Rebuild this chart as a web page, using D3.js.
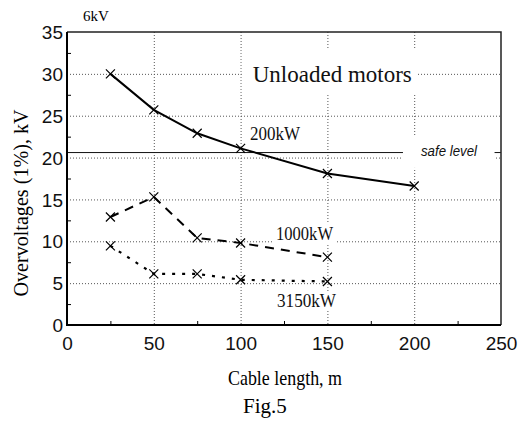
<!DOCTYPE html>
<html>
<head>
<meta charset="utf-8">
<script src="https://cdn.jsdelivr.net/npm/d3@7"></script>
<style>
  body { margin: 0; background: #fff; }
  svg { display: block; }
</style>
</head>
<body>
<div id="chart"></div>
<script>
// cable length (m) for each motor rating
const len200 = [25, 50, 75, 100, 150, 200];
const kv200 = [30.0, 25.7, 22.9, 21.1, 18.1, 16.6];
const len1000 = [25, 50, 75, 100, 150];
const kv1000 = [12.9, 15.3, 10.4, 9.8, 8.1];
const len3150 = [25, 50, 75, 100, 150];
const kv3150 = [9.45, 6.1, 6.1, 5.4, 5.2];
const safeLevel = 20.6;

const xTicks = [0, 50, 100, 150, 200, 250];
const yTicks = [0, 5, 10, 15, 20, 25, 30, 35];
const xMinor = [25, 75, 125, 175, 225];
const yMinor = [2.5, 7.5, 12.5, 17.5, 22.5, 27.5, 32.5];

const W = 525, H = 421;
const serif = '"Liberation Serif", "Times New Roman", serif';
const sans = '"Liberation Sans", Arial, sans-serif';

const svg = d3.select('#chart').append('svg')
  .attr('width', W)
  .attr('height', H);

const x = d3.scaleLinear().domain([0, 250]).range([67, 501]);
const y = d3.scaleLinear().domain([0, 35]).range([325, 32]);

// dotted grid
const grid = svg.append('g')
  .attr('stroke', '#555')
  .attr('stroke-width', 1)
  .attr('stroke-dasharray', '1,2');
grid.selectAll('.gx').data([50, 100, 150, 200]).enter().append('line')
  .attr('x1', d => x(d) + 0.5).attr('x2', d => x(d) + 0.5)
  .attr('y1', y(35)).attr('y2', y(0));
grid.selectAll('.gy').data([5, 10, 15, 20, 25, 30]).enter().append('line')
  .attr('x1', x(0)).attr('x2', x(250))
  .attr('y1', d => y(d) + 0.5).attr('y2', d => y(d) + 0.5);

// safe level line
svg.append('line')
  .attr('x1', x(0)).attr('x2', x(250))
  .attr('y1', y(safeLevel)).attr('y2', y(safeLevel))
  .attr('stroke', '#111')
  .attr('stroke-width', 1);

// labels inside the plot, each with a white box that hides the grid
const notes = [
  { t: 'Unloaded motors', x: 107, y: 29.05, size: 23, pad: [11, 6, 16, 10] },
  { t: '200kW', x: 105.4, y: 22.1, size: 19, len: 50, pad: [2, 2, 2, 2] },
  { t: '1000kW', x: 120.4, y: 10.15, size: 19, len: 57, pad: [2, 2, 2, 2] },
  { t: '3150kW', x: 121, y: 2.15, size: 19, len: 59, pad: [2, 2, 2, 2] },
  { t: 'safe level', x: 203.9, y: 20.2, size: 15, len: 56, italic: true, sans: true, pad: [18, 17, 8, 12] }
];

const boxes = svg.append('g');
const noteText = svg.append('g');
notes.forEach(n => {
  const el = noteText.append('text')
    .attr('x', x(n.x))
    .attr('y', y(n.y))
    .attr('font-family', n.sans ? sans : serif)
    .attr('font-size', n.size)
    .attr('font-style', n.italic ? 'italic' : 'normal')
    .attr('fill', '#111')
    .text(n.t);
  if (n.len) el.attr('textLength', n.len).attr('lengthAdjust', 'spacingAndGlyphs');
  const b = el.node().getBBox();
  boxes.append('rect')
    .attr('x', b.x - n.pad[0])
    .attr('y', b.y - n.pad[2] + 3)
    .attr('width', b.width + n.pad[0] + n.pad[1])
    .attr('height', b.height + n.pad[2] + n.pad[3] - 6)
    .attr('fill', '#fff');
});

// series
const series = [
  { xs: len200, ys: kv200, dash: null, w: 2 },
  { xs: len1000, ys: kv1000, dash: '9,7', w: 2 },
  { xs: len3150, ys: kv3150, dash: '3,7', w: 2.2 }
];
const line = d3.line().x(d => x(d[0])).y(d => y(d[1]));

series.forEach(s => {
  const pts = s.xs.map((v, i) => [v, s.ys[i]]);
  svg.append('path')
    .datum(pts)
    .attr('d', line)
    .attr('fill', 'none')
    .attr('stroke', '#000')
    .attr('stroke-width', s.w)
    .attr('stroke-dasharray', s.dash);

  // x markers
  const r = 4.5;
  svg.append('g').selectAll('path').data(pts).enter().append('path')
    .attr('d', d => {
      const cx = x(d[0]), cy = y(d[1]);
      return `M${cx - r},${cy - r}L${cx + r},${cy + r}M${cx - r},${cy + r}L${cx + r},${cy - r}`;
    })
    .attr('stroke', '#000')
    .attr('stroke-width', 1.2)
    .attr('fill', 'none');
});

// minor ticks, pointing inward
svg.append('g')
  .attr('transform', `translate(0,${y(0)})`)
  .call(d3.axisBottom(x).tickValues(xMinor).tickSize(-4).tickFormat(''))
  .call(g => g.select('.domain').remove());
svg.append('g')
  .attr('transform', `translate(${x(0)},0)`)
  .call(d3.axisLeft(y).tickValues(yMinor).tickSize(-4).tickFormat(''))
  .call(g => g.select('.domain').remove());

// tick labels
svg.append('g')
  .attr('transform', `translate(0,${y(0)})`)
  .call(d3.axisBottom(x).tickValues(xTicks).tickSize(0).tickPadding(11.5))
  .call(g => g.select('.domain').remove())
  .selectAll('text')
  .attr('font-family', sans)
  .attr('font-size', 19)
  .attr('fill', '#111');
svg.append('g')
  .attr('transform', `translate(${x(0)},0)`)
  .call(d3.axisLeft(y).tickValues(yTicks).tickSize(0).tickPadding(4))
  .call(g => g.select('.domain').remove())
  .selectAll('text')
  .attr('font-family', sans)
  .attr('font-size', 19)
  .attr('dy', '0.35em')
  .attr('fill', '#111');

// frame
svg.append('path')
  .attr('d', `M${x(0)},${y(35)}H${x(250)}V${y(0)}`)
  .attr('fill', 'none')
  .attr('stroke', '#222')
  .attr('stroke-width', 1.5);
svg.append('path')
  .attr('d', `M${x(0)},${y(35)}V${y(0)}H${x(250)}`)
  .attr('fill', 'none')
  .attr('stroke', '#000')
  .attr('stroke-width', 2);

// titles
svg.append('text')
  .attr('x', 83).attr('y', 21)
  .attr('font-family', serif).attr('font-size', 15)
  .text('6kV');

svg.append('text')
  .attr('transform', 'translate(28,203) rotate(-90)')
  .attr('text-anchor', 'middle')
  .attr('font-family', serif).attr('font-size', 20)
  .attr('textLength', 187).attr('lengthAdjust', 'spacingAndGlyphs')
  .text('Overvoltages (1%), kV');

svg.append('text')
  .attr('x', 285).attr('y', 385)
  .attr('text-anchor', 'middle')
  .attr('font-family', serif).attr('font-size', 22)
  .attr('textLength', 114).attr('lengthAdjust', 'spacingAndGlyphs')
  .text('Cable length, m');

svg.append('text')
  .attr('x', 265).attr('y', 413)
  .attr('text-anchor', 'middle')
  .attr('font-family', serif).attr('font-size', 21)
  .text('Fig.5');
</script>
</body>
</html>
